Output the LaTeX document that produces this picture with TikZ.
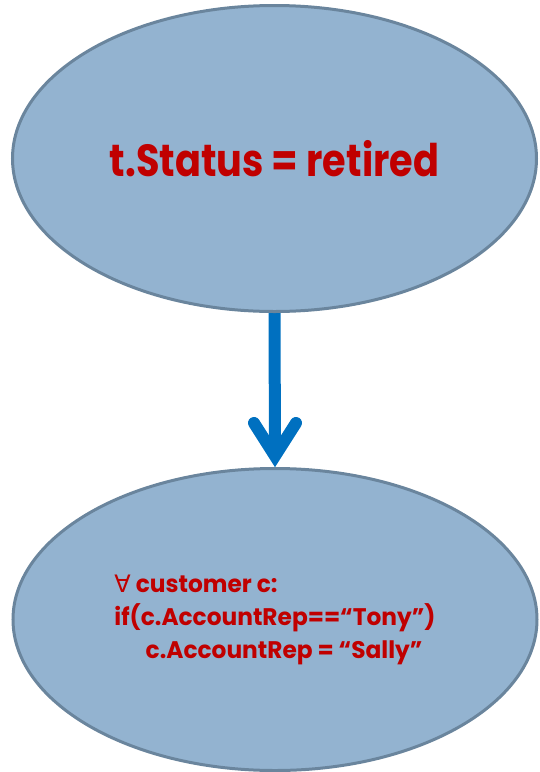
\documentclass[tikz,border=0pt]{standalone}
\usepackage{fontspec}
\setmainfont{Poppins}
\newfontfamily\topfont{Poppins Bold}[FakeStretch=0.85]
\newfontfamily\botfont{Poppins Bold}[FakeStretch=0.97]
\newfontfamily\symfont{DejaVu Sans}
\usetikzlibrary{shapes.geometric,backgrounds}
\definecolor{ellfill}{HTML}{93B3D0}
\definecolor{elldraw}{HTML}{6A859D}
\definecolor{txtred}{HTML}{C00000}
\definecolor{arrblue}{HTML}{0070C0}
\tikzset{
  oval/.style={ellipse, draw=elldraw, fill=ellfill, line width=3pt, inner sep=0pt,
    minimum width=524pt, text=txtred},
  shaft/.style={draw=arrblue, line width=12pt},
  barb/.style={draw=arrblue, line width=12pt, line cap=round, line join=miter}
}
\begin{document}
\begin{tikzpicture}[x=1pt,y=1pt]
\useasboundingbox (0,0) rectangle (539,-772);
\node[oval, minimum height=306pt, font=\topfont\fontsize{45}{54}\selectfont] (top) at (274.5,-158.5) {t.Status = retired};
\node[oval, minimum height=302pt, align=left, font=\botfont\fontsize{24}{33}\selectfont] (bot) at (275,-619.5)
  {{\symfont ∀} customer c:\\if(c.AccountRep==“Tony”)\\\hspace*{1.3em}c.AccountRep = “Sally”};
\coordinate (tip) at ([yshift=11pt]bot.north);
\begin{scope}[on background layer]
\draw[shaft] (top.south) -- (tip);
\end{scope}
\draw[barb] ([shift={(-21pt,33pt)}]tip) -- (tip) -- ([shift={(21pt,33pt)}]tip);
\end{tikzpicture}
\end{document}
